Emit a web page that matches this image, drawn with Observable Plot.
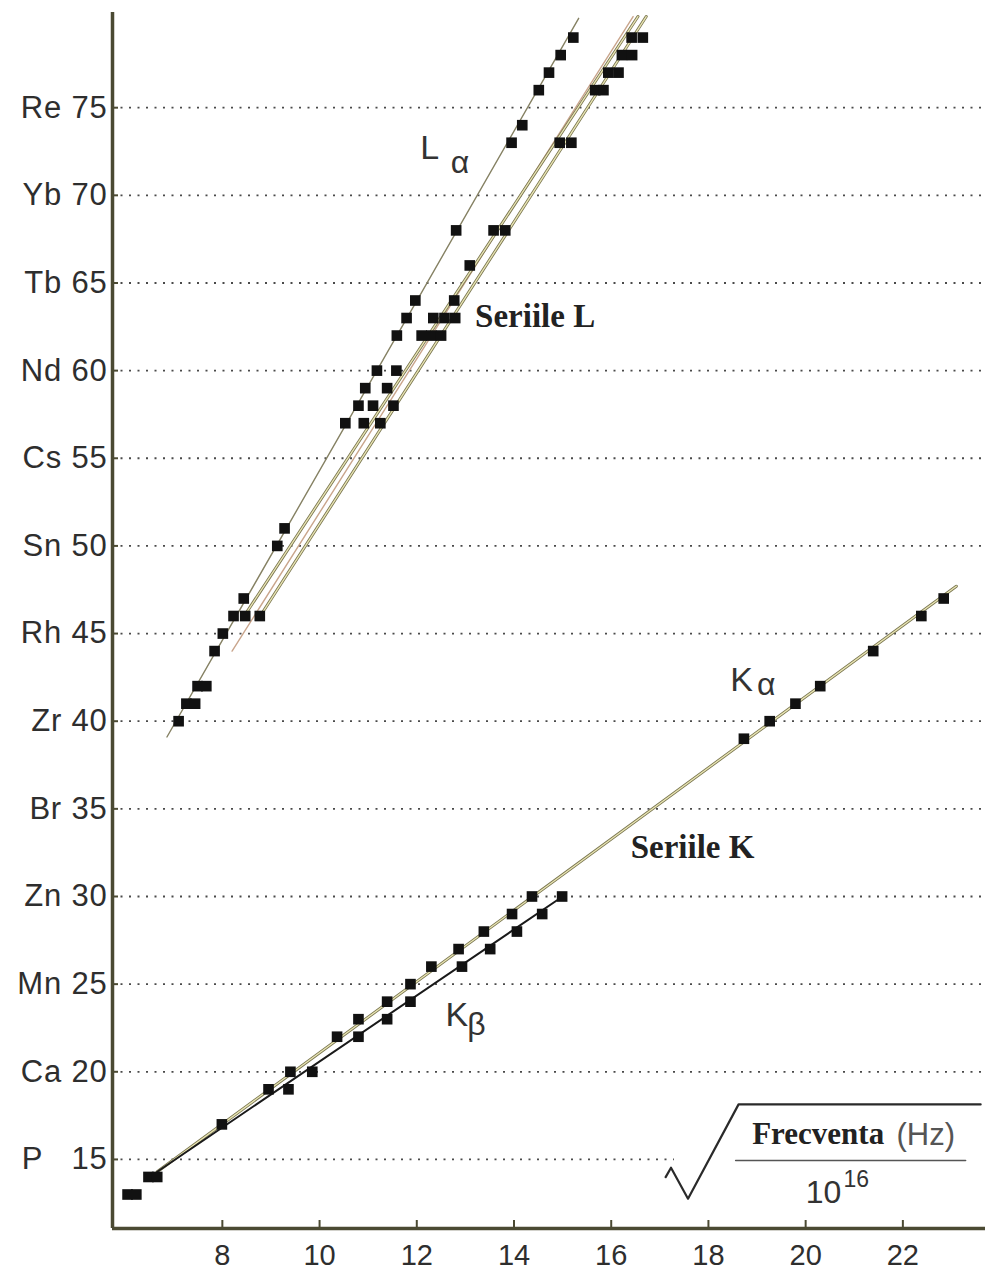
<!DOCTYPE html>
<html><head><meta charset="utf-8">
<script src="https://cdn.jsdelivr.net/npm/d3@7"></script>
<script src="https://cdn.jsdelivr.net/npm/@observablehq/plot@0.6"></script>
<style>body{margin:0;background:#fff}</style>
</head><body><div id="chart"></div>
<script>
// ---- axes ----
const yTicks = [15, 20, 25, 30, 35, 40, 45, 50, 55, 60, 65, 70, 75];
const ySymbols = ["P", "Ca", "Mn", "Zn", "Br", "Zr", "Rh", "Sn", "Cs", "Nd", "Tb", "Yb", "Re"];
const xTicks = [8, 10, 12, 14, 16, 18, 20, 22];
const xDomain = [5.74, 23.7];
const yDomain = [11.06, 80.43];

// ---- K series points (Z vs sqrt(f/1e16)) ----
const kAlphaZ = [13, 14, 17, 19, 20, 22, 23, 24, 25, 26, 27, 28, 29, 30, 39, 40, 41, 42, 44, 46, 47];
const kAlphaX = [6.05, 6.48, 7.99, 8.95, 9.40, 10.36, 10.80, 11.39, 11.87, 12.30, 12.86, 13.38, 13.96, 14.37, 18.73, 19.26, 19.79, 20.30, 21.39, 22.38, 22.84];
const kBetaZ = [13, 14, 19, 20, 22, 23, 24, 26, 27, 28, 29, 30];
const kBetaX = [6.23, 6.66, 9.36, 9.85, 10.80, 11.39, 11.87, 12.93, 13.51, 14.06, 14.58, 14.99];

// ---- L series points ----
const lAlphaZ = [40, 41, 42, 44, 45, 46, 47, 50, 51, 57, 58, 59, 60, 62, 63, 64, 68, 73, 74, 76, 77, 78, 79];
const lAlphaX = [7.10, 7.26, 7.49, 7.84, 8.01, 8.23, 8.44, 9.13, 9.28, 10.53, 10.80, 10.94, 11.18, 11.59, 11.79, 11.97, 12.81, 13.95, 14.17, 14.51, 14.72, 14.96, 15.22];
const lOtherZ = [41, 42, 46, 46, 57, 57, 58, 58, 59, 60, 62, 62, 62, 63, 63, 63, 64, 66, 68, 68, 73, 73, 76, 76, 77, 77, 78, 78, 79, 79];
const lOtherX = [7.44, 7.67, 8.47, 8.77, 10.91, 11.25, 11.10, 11.52, 11.39, 11.58, 12.10, 12.30, 12.50, 12.34, 12.57, 12.79, 12.77, 13.09, 13.58, 13.82, 14.94, 15.18, 15.67, 15.84, 15.94, 16.15, 16.22, 16.43, 16.42, 16.65];

// ---- fitted lines (endpoints) ----
const lineKaX = [6.66, 23.1], lineKaZ = [14.3, 47.7];
const lineKbX = [6.66, 15.0], lineKbZ = [14.3, 30.0];
const lineLaX = [6.86, 15.33], lineLaZ = [39.1, 80.1];
const lineLbX = [8.20, 16.45], lineLbZ = [44.0, 80.2];
const lineLcX = [8.45, 16.55], lineLcZ = [46.0, 80.2];
const lineLdX = [8.78, 16.72], lineLdZ = [46.0, 80.2];

// ---- annotations (data units) ----
const lineLabels = ["L", "K", "K"];
const lineLabelX = [12.07, 18.45, 12.59];
const lineLabelZ = [72.1, 41.75, 22.6];
const subLabels = ["α", "α", "β"];
const subLabelX = [12.70, 19.0, 13.04];
const subLabelZ = [71.3, 41.5, 22.1];
const seriesNames = ["Seriile L", "Seriile K"];
const seriesNameX = [13.2, 16.4];
const seriesNameZ = [62.5, 32.2];
const freqWord = ["Frecventa"], freqX = [18.9], freqZ = [15.9];
const unitWord = ["(Hz)"], unitX = [21.87], unitZ = [15.8];
const denomBase = ["10"], denomX = [20.0], denomZ = [12.5];
const denomExp = ["16"], expX = [20.78], expZ = [13.4];
const radicalX = [17.12, 17.23, 17.58, 18.62, 23.6];
const radicalZ = [13.99, 14.53, 12.76, 18.14, 18.14];
const fracBarX = [18.56, 23.29], fracBarZ = [14.94, 14.94];
const gridCut15 = 17.3;

const rows = (xs, zs) => xs.map((x, i) => ({x, z: zs[i]}));
const lbls = (ts, xs, zs) => ts.map((t, i) => ({t, x: xs[i], z: zs[i]}));

const axisColor = "#4b4a33";
const sans = "'Liberation Sans', Arial, Helvetica, sans-serif";
const serif = "'Liberation Serif', 'Times New Roman', serif";

function dbl(data) {
  return [
    Plot.line(data, {x: "x", y: "z", stroke: "#7a7650", strokeWidth: 3}),
    Plot.line(data, {x: "x", y: "z", stroke: "#e9e5b4", strokeWidth: 1.3})
  ];
}

const chart = Plot.plot({
  width: 985, height: 1282,
  marginLeft: 112, marginRight: 0, marginTop: 12, marginBottom: 54,
  x: {domain: xDomain},
  y: {domain: yDomain},
  style: {fontFamily: sans, background: "#fff", color: "#333", overflow: "visible"},
  marks: [
    Plot.ruleY(yTicks.filter(d => d !== 15), {stroke: "#4a4a4a", strokeWidth: 1.8, strokeDasharray: "2,6.5"}),
    Plot.ruleY([15], {x1: xDomain[0], x2: gridCut15, stroke: "#4a4a4a", strokeWidth: 1.8, strokeDasharray: "2,6.5"}),
    // L lines
    Plot.line(rows(lineLaX, lineLaZ), {x: "x", y: "z", stroke: "#858163", strokeWidth: 1.4}),
    Plot.line(rows(lineLbX, lineLbZ), {x: "x", y: "z", stroke: "#c9a58c", strokeWidth: 1.4}),
    ...dbl(rows(lineLcX, lineLcZ)),
    ...dbl(rows(lineLdX, lineLdZ)),
    // K lines
    ...dbl(rows(lineKaX, lineKaZ)),
    Plot.line(rows(lineKbX, lineKbZ), {x: "x", y: "z", stroke: "#1a1a1a", strokeWidth: 2}),
    // points
    Plot.dot(rows(lAlphaX, lAlphaZ), {x: "x", y: "z", symbol: "square", r: 6, fill: "#111"}),
    Plot.dot(rows(lOtherX, lOtherZ), {x: "x", y: "z", symbol: "square", r: 6, fill: "#111"}),
    Plot.dot(rows(kAlphaX, kAlphaZ), {x: "x", y: "z", symbol: "square", r: 6, fill: "#111"}),
    Plot.dot(rows(kBetaX, kBetaZ), {x: "x", y: "z", symbol: "square", r: 6, fill: "#111"}),
    // axes
    Plot.axisY({ticks: yTicks, tickSize: 6, dx: 6, tickFormat: () => "", stroke: axisColor, strokeWidth: 2, label: null}),
    Plot.axisY({ticks: yTicks, tickSize: 0, tickPadding: 5, fontSize: 31, fill: "#2e2e2e", label: null,
      tickFormat: d => { const s = ySymbols[yTicks.indexOf(d)]; return s === "P" ? "P\u00a0\u00a0\u00a0" + d : s + " " + d; }}),
    Plot.axisX({ticks: xTicks, tickSize: 8, dy: -8, tickFormat: () => "", stroke: axisColor, strokeWidth: 2, label: null}),
    Plot.axisX({ticks: xTicks, tickSize: 0, tickPadding: 16, fontSize: 29, fill: "#2e2e2e", label: null}),
    Plot.ruleX([xDomain[0]], {stroke: axisColor, strokeWidth: 3.5}),
    Plot.ruleY([yDomain[0]], {stroke: axisColor, strokeWidth: 3.5}),
    // labels
    Plot.text(lbls(lineLabels, lineLabelX, lineLabelZ), {x: "x", y: "z", text: "t", textAnchor: "start", lineAnchor: "bottom", fontSize: 34, fill: "#333"}),
    Plot.text(lbls(subLabels, subLabelX, subLabelZ), {x: "x", y: "z", text: "t", textAnchor: "start", lineAnchor: "bottom", fontSize: 32, fill: "#333"}),
    Plot.text(lbls(seriesNames, seriesNameX, seriesNameZ), {x: "x", y: "z", text: "t", textAnchor: "start", lineAnchor: "bottom", fontSize: 33, fontWeight: "bold", fontFamily: serif, fill: "#222"}),
    Plot.text(lbls(freqWord, freqX, freqZ), {x: "x", y: "z", text: "t", textAnchor: "start", lineAnchor: "bottom", fontSize: 31, fontWeight: "bold", fontFamily: serif, fill: "#222"}),
    Plot.text(lbls(unitWord, unitX, unitZ), {x: "x", y: "z", text: "t", textAnchor: "start", lineAnchor: "bottom", fontSize: 31, fill: "#555"}),
    Plot.text(lbls(denomBase, denomX, denomZ), {x: "x", y: "z", text: "t", textAnchor: "start", lineAnchor: "bottom", fontSize: 32, fill: "#333"}),
    Plot.text(lbls(denomExp, expX, expZ), {x: "x", y: "z", text: "t", textAnchor: "start", lineAnchor: "bottom", fontSize: 23, fill: "#333"}),
    Plot.line(rows(radicalX, radicalZ), {x: "x", y: "z", stroke: "#2a2a2a", strokeWidth: 2.2}),
    Plot.line(rows(fracBarX, fracBarZ), {x: "x", y: "z", stroke: "#555", strokeWidth: 1.6})
  ]
});
d3.select(chart).selectAll('g[aria-label="y-axis tick label"] text').attr("letter-spacing", "0.8px");
document.getElementById("chart").append(chart);
</script>
</body></html>
